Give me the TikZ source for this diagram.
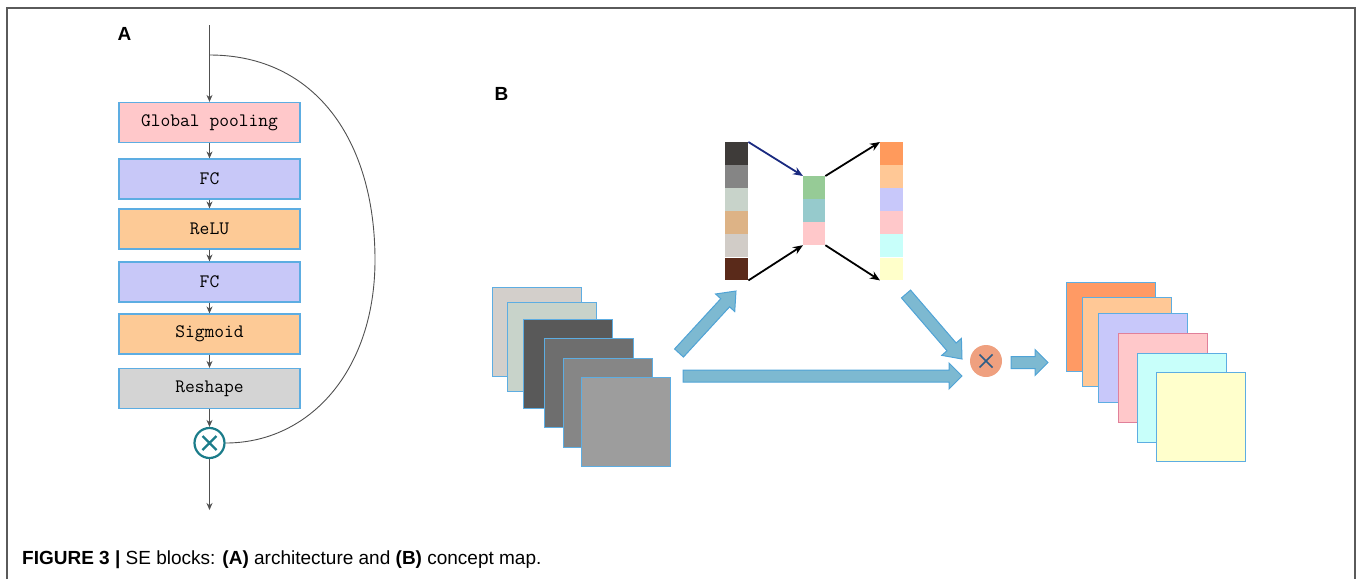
\documentclass[tikz,border=0pt]{standalone}
\usepackage{fontspec}
\setmainfont{Liberation Sans}
\usetikzlibrary{arrows.meta,calc}
\definecolor{boxblue}{HTML}{5DADE2}
\definecolor{pinkbox}{HTML}{FFC8CA}
\definecolor{lavbox}{HTML}{C8C8F8}
\definecolor{orbox}{HTML}{FDCA96}
\definecolor{greybox}{HTML}{D4D4D4}
\definecolor{lineg}{HTML}{505050}
\definecolor{tealc}{HTML}{1B7C8A}
\definecolor{bafill}{HTML}{7DB9D1}
\definecolor{badraw}{HTML}{4FA3D6}
\definecolor{salmon}{HTML}{EFA07F}
\definecolor{crossc}{HTML}{2C5D87}
\definecolor{navyc}{HTML}{1A2A80}
\definecolor{frameg}{HTML}{5A5A5A}
\definecolor{ci1}{HTML}{D3CFCB}
\definecolor{ci2}{HTML}{C8D3CA}
\definecolor{ci3}{HTML}{595959}
\definecolor{ci4}{HTML}{6E6E6E}
\definecolor{ci5}{HTML}{868686}
\definecolor{ci6}{HTML}{9D9D9D}
\definecolor{cl1}{HTML}{3E3B39}
\definecolor{cl2}{HTML}{858585}
\definecolor{cl3}{HTML}{C8D3CA}
\definecolor{cl4}{HTML}{DDB386}
\definecolor{cl5}{HTML}{D1CCC7}
\definecolor{cl6}{HTML}{5A2A1A}
\definecolor{cm1}{HTML}{96CB96}
\definecolor{cm2}{HTML}{96CACC}
\definecolor{cm3}{HTML}{FFC8CA}
\definecolor{cr1}{HTML}{FF9A5C}
\definecolor{cr2}{HTML}{FFC896}
\definecolor{cr3}{HTML}{C8C8FA}
\definecolor{cr4}{HTML}{FFC8CA}
\definecolor{cr5}{HTML}{C8FFFA}
\definecolor{cr6}{HTML}{FFFFCA}
\definecolor{co1}{HTML}{FF9A64}
\definecolor{co6}{HTML}{FFFFCC}
\definecolor{pinkedge}{HTML}{E0809A}
\newcommand{\blockarr}[3][14pt]{%
  \coordinate (ba-b) at ($(#3)!#1!(#2)$);
  \filldraw[bigarrow] ($(#2)!6pt!90:(#3)$) -- ($(ba-b)!6pt!90:(#3)$) -- ($(ba-b)!13pt!90:(#3)$) -- (#3)
    -- ($(ba-b)!13pt!-90:(#3)$) -- ($(ba-b)!6pt!-90:(#3)$) -- ($(#2)!6pt!-90:(#3)$) -- cycle;}
\begin{document}
\begin{tikzpicture}[x=1pt,y=-1pt,
  abox/.style={draw=boxblue, line width=1.2pt, minimum width=181pt, minimum height=40pt, inner sep=0pt,
    font=\fontsize{19}{21}\selectfont\ttfamily},
  arr/.style={draw=lineg, line width=0.9pt, -{Stealth[length=7pt,width=6pt]}},
  barr/.style={line width=1.8pt, -{Stealth[length=10pt,width=8pt]}},
  sq/.style={draw=boxblue, line width=1.2pt, minimum width=89pt, minimum height=89pt, inner sep=0pt, anchor=north west},
  cell/.style={minimum width=23pt, minimum height=22.67pt, inner sep=0pt, anchor=north west},
  bigarrow/.style={fill=bafill, draw=badraw, line width=1pt, line join=miter},
  lab/.style={font=\fontsize{19}{22}\selectfont\bfseries, anchor=base west}]
\useasboundingbox (0,0) rectangle (1358,579);
% frame
\draw[frameg, line width=1.6pt] (7,579) -- (7,8) -- (1355,8) -- (1355,579);
% panel labels
\node[lab] (labA) at (114,40) {A};
\node[lab] (labB) at (491,100) {B};
% ---------- panel A ----------
\coordinate (inA) at (209.5,25);
\coordinate (split) at (209.5,55);
\node[abox, fill=pinkbox] (gp) at (209.5,122.5) {Global pooling};
\node[abox, fill=lavbox] (fc1) at (209.5,179) {FC};
\node[abox, fill=orbox] (relu) at (209.5,229) {ReLU};
\node[abox, fill=lavbox] (fc2) at (209.5,282) {FC};
\node[abox, fill=orbox] (sig) at (209.5,334) {Sigmoid};
\node[abox, fill=greybox] (resh) at (209.5,388.5) {Reshape};
\node[circle, draw=tealc, line width=2.2pt, minimum size=30pt, inner sep=0pt] (mulA) at (209.5,443) {};
\draw[tealc, line width=2.4pt] ($(mulA)+(-7,-7)$) -- ($(mulA)+(7,7)$) ($(mulA)+(-7,7)$) -- ($(mulA)+(7,-7)$);
\coordinate (outA) at (209.5,510);
\draw[arr] (inA) -- (gp);
\draw[arr] (gp) -- (fc1);
\draw[arr] (fc1) -- (relu);
\draw[arr] (relu) -- (fc2);
\draw[arr] (fc2) -- (sig);
\draw[arr] (sig) -- (resh);
\draw[arr] (resh) -- (mulA);
\draw[arr] (mulA) -- (outA);
\draw[lineg, line width=0.9pt] (split) .. controls (315,55) and (375,140) .. (375,260)
  .. controls (375,370) and (310,443) .. (mulA.east);
% ---------- panel B ----------
% input stack
\node[sq, fill=ci1] (i1) at (492,287) {};
\node[sq, fill=ci2] (i2) at (507,302) {};
\node[sq, fill=ci3] (i3) at (523,319) {};
\node[sq, fill=ci4] (i4) at (544,338) {};
\node[sq, fill=ci5] (i5) at (563,358) {};
\node[sq, fill=ci6] (i6) at (581,377) {};
% left vector
\node[cell, fill=cl1] (l1) at (725,142) {};
\node[cell, fill=cl2, anchor=north] (l2) at (l1.south) {};
\node[cell, fill=cl3, anchor=north] (l3) at (l2.south) {};
\node[cell, fill=cl4, anchor=north] (l4) at (l3.south) {};
\node[cell, fill=cl5, anchor=north] (l5) at (l4.south) {};
\node[cell, fill=cl6, anchor=north] (l6) at (l5.south) {};
% middle vector
\node[cell, minimum width=22pt, fill=cm1] (m1) at (803,176) {};
\node[cell, minimum width=22pt, fill=cm2, anchor=north] (m2) at (m1.south) {};
\node[cell, minimum width=22pt, fill=cm3, anchor=north] (m3) at (m2.south) {};
% right vector
\node[cell, fill=cr1] (r1) at (880,142) {};
\node[cell, fill=cr2, anchor=north] (r2) at (r1.south) {};
\node[cell, fill=cr3, anchor=north] (r3) at (r2.south) {};
\node[cell, fill=cr4, anchor=north] (r4) at (r3.south) {};
\node[cell, fill=cr5, anchor=north] (r5) at (r4.south) {};
\node[cell, fill=cr6, anchor=north] (r6) at (r5.south) {};
\draw[barr, navyc] (l1.north east) -- (m1.north west);
\draw[barr, black] (l6.south east) -- (m3.south west);
\draw[barr, black] (m1.north east) -- (r1.north west);
\draw[barr, black] (m3.south east) -- (r6.south west);
% multiply circle
\node[circle, fill=salmon, minimum size=32pt, inner sep=0pt] (mulB) at (986,361) {};
\draw[crossc, line width=1.6pt] ($(mulB)+(-6.5,-6.5)$) -- ($(mulB)+(6.5,6.5)$) ($(mulB)+(-6.5,6.5)$) -- ($(mulB)+(6.5,-6.5)$);
% output stack
\node[sq, fill=co1] (o1) at (1066,282) {};
\node[sq, fill=cr2] (o2) at (1082,297) {};
\node[sq, fill=cr3] (o3) at (1098,313) {};
\node[sq, fill=cr4, draw=pinkedge] (o4) at (1118,333) {};
\node[sq, fill=cr5] (o5) at (1137,353) {};
\node[sq, fill=co6] (o6) at (1156,372) {};
% block arrows
\coordinate (t1) at (679,353); \coordinate (p1) at (736,291);
\coordinate (t2) at (683,376); \coordinate (p2) at (962,376);
\coordinate (t3) at (906,294); \coordinate (p3) at (962,359);
\coordinate (t4) at (1011,362.5); \coordinate (p4) at (1048,362.5);
\blockarr[16pt]{t1}{p1}
\blockarr[13pt]{t2}{p2}
\blockarr[16pt]{t3}{p3}
\blockarr[13pt]{t4}{p4}
% caption
\node[anchor=base west, font=\fontsize{19}{22}\selectfont, inner sep=0pt] (cap) at (22,564)
  {\textbf{FIGURE 3 |} SE blocks: \textbf{(A)} architecture and \textbf{(B)} concept map.};
\end{tikzpicture}
\end{document}
